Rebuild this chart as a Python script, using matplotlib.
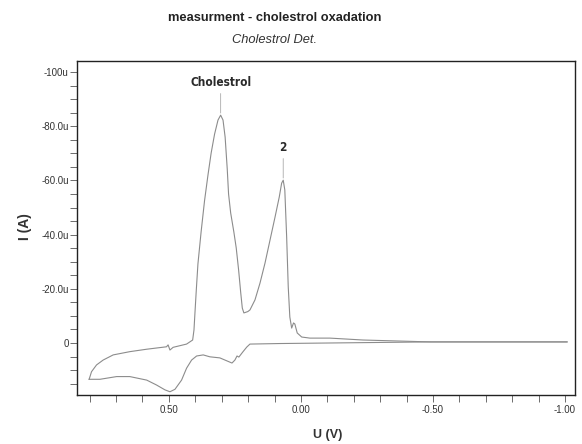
import matplotlib
matplotlib.use("Agg")
import matplotlib.pyplot as plt
from matplotlib.ticker import FixedLocator, FixedFormatter, MultipleLocator
from matplotlib import font_manager
from matplotlib.font_manager import FontProperties

# ---- data (U in V, I in microampere) ----
# upper (anodic) branch, left to right
u_upper = [0.802, 0.793, 0.774, 0.749, 0.711, 0.648, 0.584, 0.509, 0.503,
           0.496, 0.484, 0.433, 0.410, 0.405, 0.401, 0.396, 0.390, 0.378,
           0.365, 0.352, 0.340, 0.327, 0.314, 0.304, 0.295, 0.287, 0.279,
           0.274, 0.266, 0.254, 0.245, 0.236, 0.228, 0.222, 0.216, 0.201,
           0.193, 0.174, 0.155, 0.136, 0.117, 0.098, 0.082, 0.073, 0.067,
           0.061, 0.054, 0.048, 0.042, 0.035, 0.028, 0.023, 0.014, -0.003,
           -0.034, -0.045, -0.110, -0.235, -0.489, -1.008]
i_upper_uA = [13.4, 10.6, 8.1, 6.3, 4.4, 3.2, 2.3, 1.4, 0.7,
              2.6, 1.6, 0.4, -1.1, -4.8, -11.6, -19.9, -29.2, -41.0,
              -52.5, -62.0, -70.1, -77.1, -82.3, -84.1, -82.3, -76.0, -64.2,
              -55.0, -48.0, -41.0, -35.1, -27.0, -18.6, -12.9, -11.1, -11.6,
              -12.2, -15.9, -22.1, -29.5, -38.0, -46.5, -53.9, -59.0, -60.1,
              -56.5, -39.1, -20.7, -9.6, -5.5, -7.4, -7.0, -3.7, -2.2,
              -1.8, -1.8, -1.8, -1.1, -0.4, -0.4]

# lower (cathodic) branch, right to left
u_lower = [-1.008, -0.489, 0.080, 0.193, 0.205, 0.220, 0.235, 0.242,
           0.250, 0.261, 0.307, 0.345, 0.370, 0.395, 0.414, 0.433, 0.452,
           0.477, 0.496, 0.515, 0.547, 0.584, 0.648, 0.698, 0.761, 0.802]
i_lower_uA = [-0.4, -0.4, 0.2, 0.4, 1.5, 3.3, 5.2, 4.8,
              6.3, 7.4, 5.5, 5.1, 4.4, 4.8, 6.3, 9.3, 13.7,
              17.1, 18.0, 17.3, 15.5, 13.7, 12.4, 12.4, 13.4, 13.4]

# peak annotations
peak_labels = ["Cholestrol", "2"]
peak_u = [0.304, 0.067]
peak_i_uA = [-84.1, -60.1]

# axis ticks
x_major = [0.50, 0.00, -0.50, -1.00]
x_labels = ["0.50", "0.00", "-0.50", "-1.00"]
y_major_uA = [-100, -80, -60, -40, -20, 0]
y_labels = ["-100u", "-80.0u", "-60.0u", "-40.0u", "-20.0u", "0"]

title = "measurment - cholestrol oxadation"
subtitle = "Cholestrol Det."

# ---- fonts ----
ttf = font_manager.fontManager.ttflist
avail = {f.name for f in ttf}
base = "Liberation Sans" if "Liberation Sans" in avail else "DejaVu Sans"
plt.rcParams["font.family"] = [base, "DejaVu Sans"]


def weight_num(w):
    if isinstance(w, int):
        return w
    return {"bold": 700, "heavy": 800, "black": 900, "semibold": 600,
            "demibold": 600, "medium": 500}.get(str(w).lower(), 400)


def is_condensed(f):
    name = f.name.lower()
    if "narrow" in name or "condensed" in name:
        return True
    st = f.stretch
    if isinstance(st, str):
        return "condensed" in st.lower()
    return isinstance(st, int) and st < 500


cands = [f for f in ttf if is_condensed(f) and f.style == "normal"
         and f.fname.lower().endswith((".ttf", ".otf"))]
cands.sort(key=lambda f: (abs(weight_num(f.weight) - 700),
                          "italic" in f.fname.lower()))
if cands:
    peak_fp = FontProperties(fname=cands[0].fname, size=8.5)
else:
    peak_fp = FontProperties(family=base, weight="bold", size=8)

W, H = 582, 444
fig = plt.figure(figsize=(W / 100, H / 100), dpi=100)
L, R, T, B = 77, 575, 61, 395
ax = fig.add_axes([L / W, 1 - B / H, (R - L) / W, (B - T) / H])

line_color = "#8c8c8c"
ax.plot(u_upper, [v * 1e-6 for v in i_upper_uA], color=line_color, lw=0.8,
        solid_joinstyle="round")
ax.plot(u_lower, [v * 1e-6 for v in i_lower_uA], color=line_color, lw=0.8,
        solid_joinstyle="round")

for lab, pu, pi in zip(peak_labels, peak_u, peak_i_uA):
    ax.annotate(lab, xy=(pu, pi * 1e-6 - 0.8e-6), xytext=(0, 17),
                textcoords="offset points", ha="center", va="bottom",
                fontproperties=peak_fp, color="#2a2a2a",
                arrowprops=dict(arrowstyle="-", color="#aaaaaa", lw=0.6,
                                shrinkA=1, shrinkB=0))

ax.set_xlim(0.848, -1.038)
ax.set_ylim(19.2e-6, -104.1e-6)

ax.xaxis.set_major_locator(FixedLocator(x_major))
ax.xaxis.set_major_formatter(FixedFormatter(x_labels))
ax.xaxis.set_minor_locator(MultipleLocator(0.1))
ax.yaxis.set_major_locator(FixedLocator([v * 1e-6 for v in y_major_uA]))
ax.yaxis.set_major_formatter(FixedFormatter(y_labels))
ax.yaxis.set_minor_locator(MultipleLocator(5e-6))

ax.tick_params(which="both", direction="out", length=5, width=0.6,
               color="#555555", labelsize=7, labelcolor="#333333", pad=2)
ax.tick_params(axis="y", which="major", pad=1)
for s in ax.spines.values():
    s.set_color("#222222")
    s.set_linewidth(1.0)

fig.text(275 / W, 1 - 18 / H, title, ha="center", va="center",
         fontsize=9.3, fontweight="bold", color="#222222")
fig.text(275 / W, 1 - 40 / H, subtitle, ha="center", va="center",
         fontsize=9.3, style="italic", color="#333333")
fig.text(25 / W, 1 - 227 / H, "I (A)", ha="center", va="center",
         rotation=90, fontsize=10, fontweight="bold", color="#333333")
fig.text(328 / W, 1 - 435 / H, "U (V)", ha="center", va="center",
         fontsize=9, fontweight="bold", color="#333333")

fig.savefig("out.png", dpi=100)
